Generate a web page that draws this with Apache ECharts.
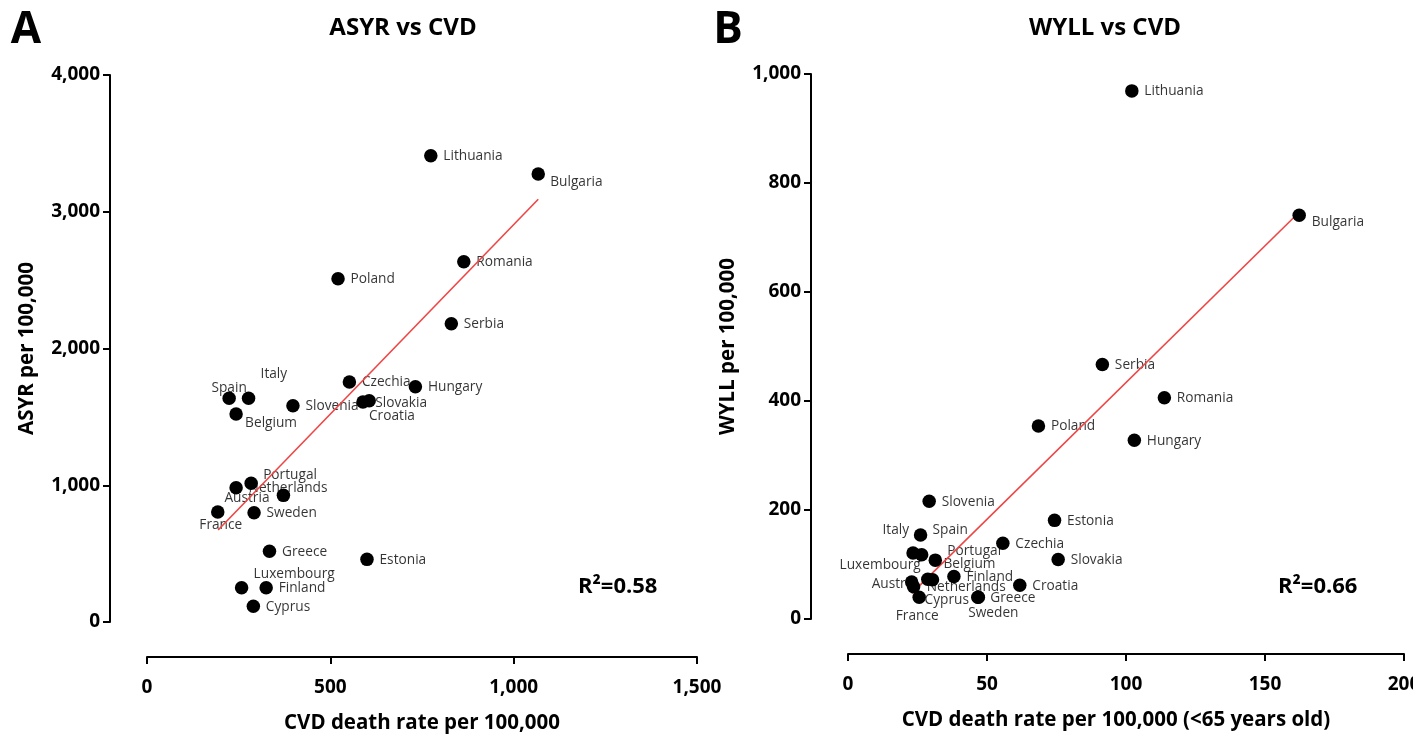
<!DOCTYPE html>
<html>
<head>
<meta charset="utf-8">
<script src="https://cdn.jsdelivr.net/npm/echarts@6/dist/echarts.min.js"></script>
<style>
    html, body { margin: 0; padding: 0; background: #fff; }
    #chart { width: 1413px; height: 734px; }
</style>
</head>
<body>
<div id="chart"></div>
<script>
// ---- panel A : ASYR vs CVD death rate ----
let countriesA = ['Lithuania', 'Bulgaria', 'Romania', 'Poland', 'Serbia', 'Czechia', 'Hungary', 'Slovakia',
    'Croatia', 'Spain', 'Italy', 'Belgium', 'Slovenia', 'Portugal', 'Netherlands', 'Austria', 'France',
    'Sweden', 'Greece', 'Estonia', 'Luxembourg', 'Finland', 'Cyprus'];
let cvdA = [774, 1067, 864, 521, 830, 552, 732, 606, 589, 224, 277, 243, 398, 284, 243, 372, 193, 292, 334, 600, 258, 325, 290];
let asyrA = [3410, 3276, 2635, 2510, 2181, 1755, 1721, 1618, 1609, 1636, 1636, 1521, 1582, 1014, 982, 926, 804, 799, 517, 458, 251, 251, 115];
let fitAx = [194, 1067];
let fitAy = [673, 3091];
let r2A = '0.58';

// ---- panel B : WYLL vs CVD death rate (<65) ----
let countriesB = ['Lithuania', 'Bulgaria', 'Serbia', 'Romania', 'Poland', 'Hungary', 'Slovenia', 'Estonia',
    'Czechia', 'Slovakia', 'Spain', 'Italy', 'Luxembourg', 'Portugal', 'Belgium', 'Austria', 'Cyprus',
    'Netherlands', 'France', 'Greece', 'Sweden', 'Finland', 'Croatia'];
let cvdB = [102.1, 162.3, 91.5, 113.8, 68.5, 103, 29.2, 74.3, 55.7, 75.6, 26.1, 23.4, 26.5, 31.4, 30.4, 22.9, 23.6, 28.7, 25.6, 46.7, 46.9, 38.1, 61.8];
let wyllB = [969, 741, 467, 406, 354, 328, 216, 181, 139, 109, 154, 121, 118, 108, 72, 68, 59, 73, 40, 40, 40, 78, 62];
let fitBx = [22.9, 161];
let fitBy = [47, 740];
let r2B = '0.66';

// ----------------------------------------------------
const FONT = '"Open Sans", "Noto Sans", sans-serif';
const DOT = 13.5;

// where each label sits relative to its dot: [dx, dy, align]
let placeA = {
    Bulgaria: [12, 8], Slovakia: [6, 2], Croatia: [6, 14], Spain: [0, -10, 'center'],
    Italy: [12, -24], Belgium: [9, 9], Portugal: [12, -8], Austria: [-59, 3],
    France: [3, 13, 'center'], Luxembourg: [12, -14]
};
let placeB = {
    Bulgaria: [12.5, 7], Spain: [12, -5], Italy: [-4, -23, 'right'], Luxembourg: [-1, 10, 'right'],
    Portugal: [12, -9], Belgium: [11, -16], Austria: [-40, 2], Cyprus: [11, 13],
    Netherlands: [-1, 8], France: [-2, 19, 'center'], Sweden: [15, 16, 'center']
};

function dots(names, xs, ys) {
    return names.map((n, i) => ({ name: n, value: [xs[i], ys[i]] }));
}
function labelled(names, xs, ys, place) {
    return names.map((n, i) => {
        let p = place[n] || [12.5, 0.5];
        return {
            name: n, value: [xs[i], ys[i]],
            label: { position: [p[0] + DOT / 2, p[1] + DOT / 2], align: p[2] || 'left', verticalAlign: 'middle' }
        };
    });
}
let comma = v => v.toLocaleString('en-US');

let axisBase = {
    axisLine: { onZero: false, lineStyle: { color: '#000', width: 2 } },
    axisTick: { length: 7, lineStyle: { color: '#000', width: 2 } },
    splitLine: { show: false },
    nameLocation: 'middle'
};
function nameStyle(padRight) {
    return { fontFamily: FONT, fontWeight: 'bold', fontSize: 20.5, color: '#000', padding: [0, padRight, 0, 0] };
}
function xAx(grid, max, step, name, padRight) {
    return Object.assign({}, axisBase, {
        type: 'value', gridIndex: grid, min: 0, max: max, interval: step, offset: 35,
        name: name, nameGap: 56, nameTextStyle: nameStyle(padRight),
        axisLabel: { fontFamily: FONT, fontWeight: 'bold', fontSize: 19, color: '#000', margin: 21, formatter: comma }
    });
}
function yAx(grid, max, step, name) {
    return Object.assign({}, axisBase, {
        type: 'value', gridIndex: grid, min: 0, max: max, interval: step, offset: 37,
        name: name, nameGap: 72, nameTextStyle: nameStyle(0),
        axisLabel: { fontFamily: FONT, fontWeight: 'bold', fontSize: 19, color: '#000', margin: 10, formatter: comma }
    });
}
function scatterPair(idx, names, xs, ys, place) {
    return [
        {
            type: 'scatter', xAxisIndex: idx, yAxisIndex: idx, z: 2, silent: true,
            symbolSize: DOT, itemStyle: { color: 'rgba(0,0,0,0)' },
            label: { show: true, formatter: '{b}', fontFamily: FONT, fontSize: 13.7, color: '#000' },
            data: labelled(names, xs, ys, place)
        },
        {
            type: 'line', xAxisIndex: idx, yAxisIndex: idx, z: 3, silent: true, symbol: 'none',
            lineStyle: { color: '#ee4545', width: 1.6 },
            data: idx === 0 ? [[fitAx[0], fitAy[0]], [fitAx[1], fitAy[1]]] : [[fitBx[0], fitBy[0]], [fitBx[1], fitBy[1]]]
        },
        {
            type: 'scatter', xAxisIndex: idx, yAxisIndex: idx, z: 4, silent: true,
            symbolSize: DOT, itemStyle: { color: '#000', opacity: 1 },
            data: dots(names, xs, ys)
        }
    ];
}
function txt(s, x, y, size, align) {
    return {
        type: 'text', x: x, y: y,
        style: { text: s, fontFamily: FONT, fontWeight: 'bold', fontSize: size, fill: '#000', align: align || 'center', verticalAlign: 'middle' }
    };
}

let chart = echarts.init(document.getElementById('chart'));
let option = {
    animation: false,
    backgroundColor: '#fff',
    grid: [
        { left: 147, top: 75, width: 550, height: 547, outerBoundsMode: 'none' },
        { left: 848, top: 74, width: 556, height: 545, outerBoundsMode: 'none' }
    ],
    xAxis: [
        xAx(0, 1500, 500, 'CVD death rate per 100,000', 0),
        xAx(1, 200, 50, 'CVD death rate per 100,000 (<65 years old)', 20)
    ],
    yAxis: [
        yAx(0, 4000, 1000, 'ASYR per 100,000'),
        yAx(1, 1000, 200, 'WYLL per 100,000')
    ],
    graphic: [
        txt('A', 26, 30, 44),
        txt('B', 728, 30, 44),
        txt('ASYR vs CVD', 403, 28, 24),
        txt('WYLL vs CVD', 1105, 28, 24),
        txt('R\u00b2=' + r2A, 578, 587, 22, 'left'),
        txt('R\u00b2=' + r2B, 1278, 587, 22, 'left')
    ],
    series: scatterPair(0, countriesA, cvdA, asyrA, placeA).concat(scatterPair(1, countriesB, cvdB, wyllB, placeB))
};
chart.setOption(option);
</script>
</body>
</html>
